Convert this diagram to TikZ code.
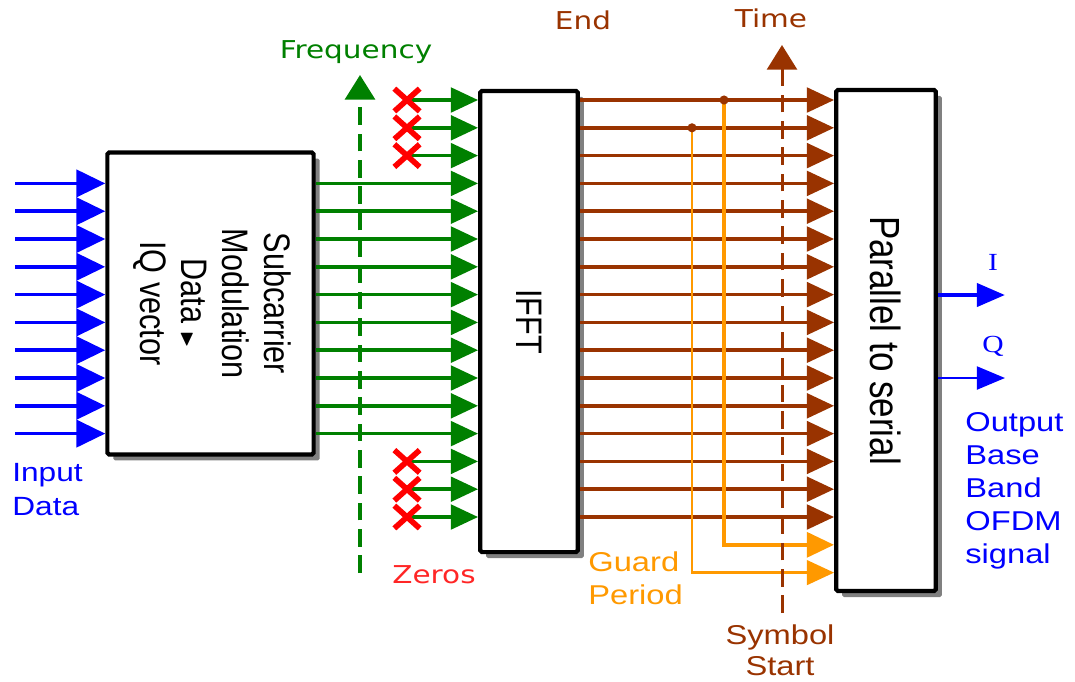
\documentclass[tikz,border=0pt]{standalone}
\usepackage{fontspec}
\usepackage{amssymb}
\usepackage{graphicx}
\setmainfont{Liberation Sans}
\newfontfamily\blockfont[FakeStretch=0.83]{Liberation Sans}
\newfontfamily\labelfont[FakeStretch=1.2]{Liberation Sans}
\newfontfamily\axisfont[FakeStretch=1.2]{DejaVu Sans}
\newfontfamily\iqfont[FakeStretch=1.2]{Liberation Serif}
\usetikzlibrary{arrows.meta,shadows}

\definecolor{sigblue}{RGB}{0,0,255}
\definecolor{subgreen}{RGB}{0,128,0}
\definecolor{symbrown}{RGB}{153,51,0}
\definecolor{guardorange}{RGB}{255,153,0}
\definecolor{zerored}{RGB}{255,0,0}

\tikzset{
  block/.style={draw, line width=2.4pt, fill=white, rounded corners=1pt, inner sep=0pt,
    drop shadow={shadow xshift=3.4pt, shadow yshift=-3.4pt, fill=black!50, opacity=1}},
  feed/.style={line width=2pt, -{Triangle[length=15.5pt,width=14pt]}},
  zeromark/.style={inner sep=0pt, minimum width=14pt, minimum height=12.5pt},
  axis/.style={line width=2pt, dash pattern=on 10pt off 5pt,
    -{Triangle[length=14pt,width=17pt]}},
  guard/.style={draw=guardorange, -{Triangle[length=15.5pt,width=14pt]}},
  lbl/.style={inner sep=0pt, font={\fontsize{15.5}{18.7}\labelfont}},
  axlbl/.style={inner sep=0pt, font={\fontsize{14}{17}\axisfont}},
}

\begin{document}
\begin{tikzpicture}[x=0.02cm,y=-0.02cm]
  \useasboundingbox (0,0) rectangle (1075,681);

  % the three blocks
  \node[block, minimum width=117.4pt, minimum height=171.8pt] (mod) at (210.5,303.5)
    {\rotatebox{-90}{\fontsize{21}{23.5}\blockfont\begin{tabular}{@{}c@{}}Subcarrier\\Modulation\\
      Data {\fontsize{12}{12}\selectfont$\blacktriangleright$}\\IQ vector\end{tabular}}};
  \node[block, minimum width=55.6pt, minimum height=262.5pt] (ifft) at (529,321.5)
    {\rotatebox{-90}{\fontsize{21}{24}\blockfont IFFT}};
  \node[block, minimum width=56.7pt, minimum height=285.2pt] (ps) at (886,340.5)
    {\rotatebox{-90}{\fontsize{24}{28}\blockfont Parallel to serial}};

  % rows of the subcarrier grid
  \foreach \k in {0,...,17} \coordinate (r\k) at (15,{100+27.8*\k});

  % input data
  \foreach \k in {3,...,12}
    \draw[feed, sigblue, -{Triangle[length=16.5pt,width=15.5pt]}] (r\k) -- (mod.west |- r\k);
  % modulated subcarriers
  \foreach \k in {3,...,12}
    \draw[feed, subgreen] (mod.east |- r\k) -- (ifft.west |- r\k);
  % unused carriers set to zero
  \foreach \k in {0,1,2,13,14,15} {
    \path (r\k) ++(392,0) node[zeromark] (z\k) {};
    \draw[feed, subgreen] (z\k.center) -- (ifft.west |- z\k);
    \draw[zerored, line width=3.2pt] (z\k.north west) -- (z\k.south east)
      (z\k.south west) -- (z\k.north east);
  }
  % time samples
  \foreach \k in {0,...,15}
    \draw[feed, symbrown] (ifft.east |- r\k) -- (ps.west |- r\k);

  % guard period copies
  \coordinate (g0) at (724,100);
  \coordinate (g1) at (692,127.8);
  \draw[guard, line width=2.6pt] (g0) -- (g0 |- r16) -- (ps.west |- r16);
  \draw[guard, line width=1.5pt] (g1) -- (g1 |- r17) -- (ps.west |- r17);
  \fill[symbrown] (g0) circle (2.6pt);
  \fill[symbrown] (g1) circle (2.6pt);

  % frequency and time axes
  \coordinate (f0) at (360,573);
  \coordinate (f1) at (360,75);
  \draw[axis, subgreen] (f0) -- (f1);
  \coordinate (t0) at (782,613);
  \coordinate (t1) at (782,45);
  \draw[axis, symbrown, line width=1.7pt] (t0) -- (t1);

  % serial outputs
  \coordinate (iout) at (1005,295);
  \coordinate (qout) at (1005,378);
  \draw[sigblue, line width=2.6pt, -{Triangle[length=16pt,width=13pt]}] (ps.east |- iout) -- (iout);
  \draw[sigblue, line width=1.5pt, -{Triangle[length=16pt,width=13pt]}] (ps.east |- qout) -- (qout);

  % labels
  \node[lbl, text=sigblue, font={\fontsize{15}{19.3}\labelfont}, align=left, anchor=west]
    (indata) at (12,490) {Input\\Data};
  \node[lbl, text=sigblue, align=left, anchor=west] (outdata) at (965,491)
    {Output\\Base\\Band\\OFDM\\signal};
  \node[lbl, text=guardorange, align=left, anchor=west] (guardlbl) at (588,578) {Guard\\Period};
  \node[lbl, text=symbrown, align=center, font={\fontsize{15.5}{17.6}\labelfont}]
    (startlbl) at (780,650) {Symbol\\Start};
  \node[axlbl, text=subgreen] (freqlbl) at (356,52) {Frequency};
  \node[axlbl, text=zerored!85] (zerolbl) at (434,575) {Zeros};
  \node[axlbl, text=symbrown] (endlbl) at (583,20) {End};
  \node[axlbl, text=symbrown] (timelbl) at (771,18) {Time};
  \node[inner sep=0pt, text=sigblue, font={\fontsize{14}{16}\iqfont}] (ilbl) at (993,262) {I};
  \node[inner sep=0pt, text=sigblue, font={\fontsize{14}{16}\iqfont}] (qlbl) at (993,346) {Q};
\end{tikzpicture}
\end{document}
